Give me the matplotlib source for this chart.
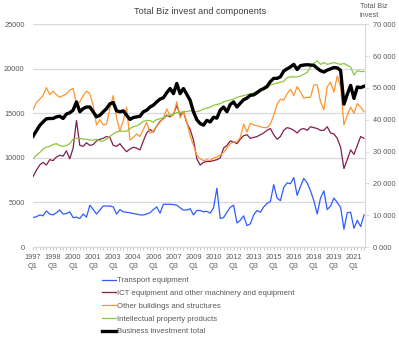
import matplotlib
matplotlib.use("Agg")
import matplotlib.pyplot as plt
from matplotlib.ticker import FuncFormatter, MultipleLocator, FixedLocator
import numpy as np

plt.rcParams['font.family'] = ['Liberation Sans', 'DejaVu Sans']

# Quarterly data, 1997 Q1 .. 2021 Q4 (100 quarters), £m
transport = [3.3, 3.4, 3.6, 3.5, 4.05, 3.7, 3.6, 3.85, 4.15, 3.7,
             3.75, 3.95, 3.3, 3.35, 3.2, 3.7, 3.35, 4.7, 4.2, 3.7,
             4.15, 4.6, 4.6, 4.6, 4.5, 3.7, 4.2, 3.95, 3.9, 3.85,
             3.75, 3.7, 3.6, 3.6, 3.7, 3.85, 4.2, 4.5, 3.8, 4.8,
             4.8, 4.8, 4.75, 4.7, 4.4, 4.15, 4.15, 4.3, 3.6, 4.1,
             4.1, 3.95, 4.0, 3.8, 4.4, 6.6, 3.2, 3.3, 3.9, 4.45,
             4.7, 2.7, 3.0, 3.5, 2.4, 2.6, 3.6, 4.1, 3.9, 4.5,
             4.9, 5.1, 7.0, 5.5, 5.2, 6.7, 7.2, 7.1, 7.8, 5.8,
             6.8, 7.7, 7.2, 6.3, 5.2, 3.7, 5.5, 6.3, 4.2, 4.6,
             5.5, 5.0, 4.45, 2.0, 3.85, 3.9, 2.1, 3.0, 2.3, 3.6]
ict = [7.9, 8.6, 9.2, 9.5, 9.2, 9.8, 9.7, 10.1, 10.3, 10.2,
       10.8, 9.9, 11.1, 14.2, 11.4, 11.3, 11.7, 11.4, 11.5, 11.9,
       12.1, 12.2, 12.4, 12.3, 11.4, 11.3, 11.6, 11.1, 10.7, 11.0,
       11.2, 11.1, 10.9, 11.9, 12.8, 13.2, 12.9, 13.6, 14.1, 14.4,
       14.8, 14.6, 14.9, 15.9, 14.8, 15.2, 13.9, 13.2, 12.0, 9.9,
       9.2, 9.5, 9.6, 9.6, 9.7, 9.8, 10.0, 11.1, 11.4, 11.9,
       11.8, 11.6, 12.1, 12.5, 12.6, 12.2, 12.3, 12.4, 12.6, 12.8,
       13.1, 13.3, 12.6, 12.1, 12.4, 13.1, 13.4, 13.3, 13.1, 12.8,
       13.2, 13.3, 13.1, 13.5, 13.4, 13.3, 13.1, 13.1, 13.5, 12.8,
       12.7, 12.2, 11.2, 8.8, 9.8, 10.9, 10.4, 11.4, 12.4, 12.2]
buildings = [15.4, 16.2, 16.6, 17.0, 17.9, 17.1, 17.5, 17.1, 16.8, 17.0,
             17.2, 17.6, 17.8, 16.0, 16.3, 17.0, 17.5, 17.2, 15.9, 13.7,
             14.3, 13.7, 13.8, 15.6, 17.0, 14.5, 13.0, 14.2, 15.7, 12.0,
             12.3, 12.7, 12.4, 13.2, 14.0, 12.8, 13.0, 13.6, 14.0, 14.5,
             15.5, 14.7, 14.8, 16.3, 14.5, 15.2, 14.0, 12.5, 11.4, 10.3,
             9.9, 9.7, 9.8, 9.7, 10.0, 10.1, 10.3, 10.6, 11.1, 11.6,
             11.8, 11.8, 12.3, 13.8, 12.9, 13.9, 13.7, 13.6, 13.5, 13.4,
             13.4, 13.8, 14.8, 16.0, 16.6, 16.5, 17.2, 17.7, 17.0, 18.0,
             17.4, 16.7, 16.8, 16.8, 18.2, 18.2, 16.3, 15.4, 18.0, 18.5,
             17.4, 19.2, 18.0, 13.7, 14.8, 15.7, 15.0, 16.1, 15.7, 15.2]
ipp = [9.9, 10.3, 10.6, 11.0, 11.2, 11.3, 11.5, 11.6, 11.4, 11.3,
       11.4, 11.6, 12.1, 12.2, 12.2, 12.1, 12.1, 12.0, 12.0, 12.1,
       11.9, 11.9, 12.1, 12.4, 12.7, 12.9, 13.0, 13.0, 13.0, 13.3,
       13.5, 13.6, 13.8, 14.1, 14.2, 14.2, 14.0, 14.3, 14.4, 14.5,
       14.7, 14.8, 14.9, 15.1, 15.1, 15.2, 15.2, 15.3, 15.2, 15.2,
       15.3, 15.5, 15.6, 15.7, 15.9, 16.0, 16.1, 16.3, 16.4, 16.5,
       16.6, 16.8, 16.9, 17.0, 17.1, 17.2, 17.3, 17.5, 17.6, 17.7,
       17.8, 18.2, 18.3, 18.4, 18.5, 18.6, 19.0, 19.1, 19.1, 19.1,
       19.2, 19.4, 19.6, 20.2, 20.6, 20.9, 20.5, 20.7, 20.5, 20.6,
       20.7, 20.6, 20.5, 20.6, 20.4, 20.2, 19.3, 19.8, 19.7, 19.7]
total = [34.8, 36.5, 38.2, 39.3, 40.3, 40.4, 40.4, 40.9, 41.1, 40.4,
         41.8, 42.2, 43.0, 45.6, 42.5, 43.5, 44.0, 44.0, 42.5, 40.9,
         41.4, 42.5, 43.5, 45.0, 45.4, 42.8, 42.5, 42.8, 41.4, 40.1,
         40.7, 40.9, 41.1, 42.5, 43.0, 44.0, 44.6, 45.6, 46.5, 46.9,
         48.5, 49.8, 48.2, 51.4, 48.2, 49.8, 48.0, 46.1, 42.5, 40.0,
         38.8, 38.3, 39.8, 39.3, 40.8, 40.5, 43.0, 44.0, 42.5, 44.8,
         45.6, 44.0, 45.2, 46.3, 46.8, 47.7, 47.8, 48.5, 49.3, 49.8,
         50.5, 52.0, 53.0, 53.0, 53.5, 55.3, 56.0, 56.6, 57.4, 55.8,
         57.0, 57.2, 57.3, 57.2, 57.1, 56.2, 55.4, 55.0, 55.6, 56.0,
         56.4, 56.3, 55.5, 44.9, 48.0, 50.8, 46.7, 50.3, 50.1, 50.5]

tick_labels = ["1997\nQ1", "1998\nQ3", "2000\nQ1", "2001\nQ3", "2003\nQ1",
               "2004\nQ3", "2006\nQ1", "2007\nQ3", "2009\nQ1", "2010\nQ3",
               "2012\nQ1", "2013\nQ3", "2015\nQ1", "2016\nQ3", "2018\nQ1",
               "2019\nQ3", "2021\nQ1"]

series_names = ["Transport equipment",
                "ICT equipment and other machinery and equipment",
                "Other buildings and structures",
                "Intellectual property products",
                "Business investment total"]

W, H = 399, 340
fig = plt.figure(figsize=(W / 100, H / 100), dpi=100)
ax = fig.add_axes([33 / W, 1 - 247 / H, (365 - 33) / W, (247 - 24.3) / H])
ax2 = ax.twinx()

q = np.arange(len(total))
c_t, c_i, c_b, c_p = '#2f5cff', '#7f1f4f', '#ff9430', '#8dc63f'
l1, = ax.plot(q, np.array(transport) * 1000, color=c_t, lw=0.9)
l2, = ax.plot(q, np.array(ict) * 1000, color=c_i, lw=0.9)
l3, = ax.plot(q, np.array(buildings) * 1000, color=c_b, lw=0.9)
l4, = ax.plot(q, np.array(ipp) * 1000, color=c_p, lw=0.9)
l5, = ax2.plot(q, np.array(total) * 1000, color='black', lw=2.4)

txt = '#595959'
fs = 5.3
ax.set_xlim(0, 99.3)
ax.set_ylim(0, 25000)
ax2.set_ylim(0, 70000)
ax.yaxis.set_major_locator(MultipleLocator(5000))
ax2.yaxis.set_major_locator(MultipleLocator(10000))
ax2.yaxis.set_major_formatter(FuncFormatter(lambda v, p: f"{int(v) // 1000} 000"))

ax.grid(axis='y', color='#d9d9d9', lw=0.9)
ax.set_axisbelow(True)
for a in (ax, ax2):
    for s in ('top', 'left'):
        a.spines[s].set_visible(False)
ax.spines['right'].set_visible(False)
ax.spines['bottom'].set_color('#d9d9d9')
ax2.spines['bottom'].set_visible(False)
ax2.spines['right'].set_color('#d9d9d9')

ax.xaxis.set_major_locator(FixedLocator(np.arange(0, 97, 6)))
ax.set_xticklabels(tick_labels)
ax.xaxis.set_minor_locator(FixedLocator(np.arange(0, 100, 1)))
ax.tick_params(axis='x', which='both', length=2, width=0.6, color='#bfbfbf',
               labelsize=fs, labelcolor=txt, pad=3)
for lbl in ax.get_xticklabels():
    lbl.set_linespacing(1.45)
ax.tick_params(axis='y', length=0, labelsize=fs, labelcolor=txt, pad=6)
ax2.tick_params(axis='y', length=3, width=0.6, color='#d9d9d9', labelsize=fs,
                labelcolor=txt, pad=3)

fig.text(200 / W, 1 - 12 / H, "Total Biz invest and components", ha='center',
         va='center', fontsize=6.6, color='#404040')
fig.text(359.5 / W, 1 - 11 / H, "Total Biz\ninvest", ha='left', va='center',
         fontsize=5.3, color=txt, linespacing=1.3)

leg = fig.legend([l1, l2, l3, l4, l5], series_names, loc='upper left',
                 bbox_to_anchor=(102 / W, 1 - 277 / H), frameon=False,
                 fontsize=5.6, handlelength=1.8, handletextpad=0.15,
                 labelspacing=0.68, borderpad=0, borderaxespad=0)
for t in leg.get_texts():
    t.set_color(txt)

fig.savefig("out.png", dpi=100)
